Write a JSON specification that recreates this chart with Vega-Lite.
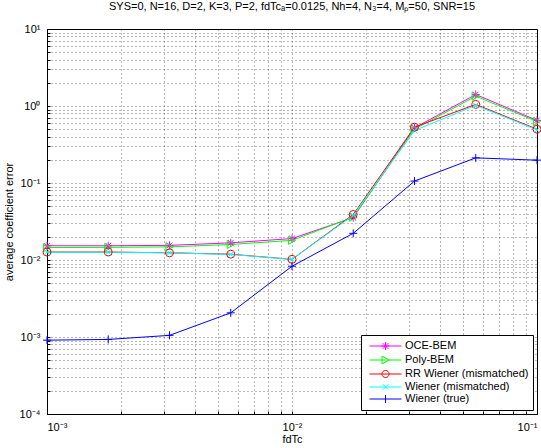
{
  "$schema": "https://vega.github.io/schema/vega-lite/v6.json",
  "width": 490,
  "height": 385,
  "autosize": {"type": "none"},
  "padding": {"left": 47, "top": 29, "right": 4, "bottom": 34},
  "config": {
    "font": "Liberation Sans",
    "view": {"stroke": "black", "strokeWidth": 1},
    "axis": {
      "grid": true,
      "gridDash": [1, 3],
      "gridColor": "#000000",
      "gridOpacity": 0.55,
      "gridWidth": 1,
      "ticks": true,
      "tickSize": -3,
      "tickColor": "#000000",
      "domain": false,
      "labelFont": "Liberation Sans",
      "labelFontSize": 11,
      "labelColor": "#000000",
      "labelOverlap": false,
      "titleFont": "Liberation Sans",
      "titleFontSize": 11,
      "titleFontWeight": "normal",
      "titleColor": "#000000"
    },
    "legend": {
      "orient": "bottom-right",
      "offset": 4,
      "strokeColor": "#000000",
      "fillColor": "#ffffff",
      "padding": 4,
      "labelFont": "Liberation Sans",
      "labelFontSize": 11,
      "labelColor": "#000000",
      "symbolSize": 169,
      "symbolStrokeWidth": 1,
      "symbolFillColor": "transparent",
      "rowPadding": 0,
      "labelOffset": 26,
      "labelLimit": 300
    }
  },
  "title": {
    "text": "SYS=0, N=16, D=2, K=3, P=2, fdTcₐ=0.0125, Nh=4, N₃=4, Mₚ=50, SNR=15",
    "font": "Liberation Sans",
    "fontSize": 11,
    "fontWeight": "normal",
    "color": "#000000",
    "anchor": "middle",
    "offset": 11
  },
  "data": {
    "values": [
      {"x": 0.001, "series": "OCE-BEM", "y": 0.0153},
      {"x": 0.001778, "series": "OCE-BEM", "y": 0.0153},
      {"x": 0.003162, "series": "OCE-BEM", "y": 0.0155},
      {"x": 0.005623, "series": "OCE-BEM", "y": 0.0167},
      {"x": 0.01, "series": "OCE-BEM", "y": 0.0190},
      {"x": 0.01778, "series": "OCE-BEM", "y": 0.0355},
      {"x": 0.03162, "series": "OCE-BEM", "y": 0.52},
      {"x": 0.05623, "series": "OCE-BEM", "y": 1.41},
      {"x": 0.1, "series": "OCE-BEM", "y": 0.65},
      {"x": 0.001, "series": "Poly-BEM", "y": 0.0145},
      {"x": 0.001778, "series": "Poly-BEM", "y": 0.0146},
      {"x": 0.003162, "series": "Poly-BEM", "y": 0.0148},
      {"x": 0.005623, "series": "Poly-BEM", "y": 0.0159},
      {"x": 0.01, "series": "Poly-BEM", "y": 0.0180},
      {"x": 0.01778, "series": "Poly-BEM", "y": 0.0360},
      {"x": 0.03162, "series": "Poly-BEM", "y": 0.50},
      {"x": 0.05623, "series": "Poly-BEM", "y": 1.34},
      {"x": 0.1, "series": "Poly-BEM", "y": 0.63},
      {"x": 0.001, "series": "RR Wiener (mismatched)", "y": 0.0127},
      {"x": 0.001778, "series": "RR Wiener (mismatched)", "y": 0.0127},
      {"x": 0.003162, "series": "RR Wiener (mismatched)", "y": 0.0124},
      {"x": 0.005623, "series": "RR Wiener (mismatched)", "y": 0.0119},
      {"x": 0.01, "series": "RR Wiener (mismatched)", "y": 0.0102},
      {"x": 0.01778, "series": "RR Wiener (mismatched)", "y": 0.039},
      {"x": 0.03162, "series": "RR Wiener (mismatched)", "y": 0.53},
      {"x": 0.05623, "series": "RR Wiener (mismatched)", "y": 1.05},
      {"x": 0.1, "series": "RR Wiener (mismatched)", "y": 0.50},
      {"x": 0.001, "series": "Wiener (mismatched)", "y": 0.0126},
      {"x": 0.001778, "series": "Wiener (mismatched)", "y": 0.0126},
      {"x": 0.003162, "series": "Wiener (mismatched)", "y": 0.0124},
      {"x": 0.005623, "series": "Wiener (mismatched)", "y": 0.0118},
      {"x": 0.01, "series": "Wiener (mismatched)", "y": 0.0102},
      {"x": 0.01778, "series": "Wiener (mismatched)", "y": 0.038},
      {"x": 0.03162, "series": "Wiener (mismatched)", "y": 0.48},
      {"x": 0.05623, "series": "Wiener (mismatched)", "y": 1.02},
      {"x": 0.1, "series": "Wiener (mismatched)", "y": 0.49},
      {"x": 0.001, "series": "Wiener (true)", "y": 0.00091},
      {"x": 0.001778, "series": "Wiener (true)", "y": 0.00093},
      {"x": 0.003162, "series": "Wiener (true)", "y": 0.00105},
      {"x": 0.005623, "series": "Wiener (true)", "y": 0.00206},
      {"x": 0.01, "series": "Wiener (true)", "y": 0.0083},
      {"x": 0.01778, "series": "Wiener (true)", "y": 0.0222},
      {"x": 0.03162, "series": "Wiener (true)", "y": 0.106},
      {"x": 0.05623, "series": "Wiener (true)", "y": 0.212},
      {"x": 0.1, "series": "Wiener (true)", "y": 0.198}
    ]
  },
  "layer": [
    {
      "mark": {"type": "line", "strokeWidth": 1, "clip": true},
      "encoding": {
        "x": {
          "field": "x",
          "type": "quantitative",
          "scale": {"type": "log", "domain": [0.001, 0.1]},
          "axis": {
            "title": "fdTc",
            "values": [0.001, 0.002, 0.003, 0.004, 0.005, 0.006, 0.007, 0.008, 0.009, 0.01, 0.02, 0.03, 0.04, 0.05, 0.06, 0.07, 0.08, 0.09, 0.1],
            "labelExpr": "datum.value == 0.001 ? '10⁻³' : datum.value == 0.01 ? '10⁻²' : datum.value == 0.1 ? '10⁻¹' : ''",
            "labelPadding": 10,
            "titlePadding": 1
          }
        },
        "y": {
          "field": "y",
          "type": "quantitative",
          "scale": {"type": "log", "domain": [0.0001, 10]},
          "axis": {
            "title": "average coefficient error",
            "values": [0.0001, 0.0002, 0.0003, 0.0004, 0.0005, 0.0006, 0.0007, 0.0008, 0.0009, 0.001, 0.002, 0.003, 0.004, 0.005, 0.006, 0.007, 0.008, 0.009, 0.01, 0.02, 0.03, 0.04, 0.05, 0.06, 0.07, 0.08, 0.09, 0.1, 0.2, 0.3, 0.4, 0.5, 0.6, 0.7, 0.8, 0.9, 1, 2, 3, 4, 5, 6, 7, 8, 9, 10],
            "labelExpr": "datum.value == 0.0001 ? '10⁻⁴' : datum.value == 0.001 ? '10⁻³' : datum.value == 0.01 ? '10⁻²' : datum.value == 0.1 ? '10⁻¹' : datum.value == 1 ? '10⁰' : datum.value == 10 ? '10¹' : ''",
            "labelPadding": 10,
            "titlePadding": 5
          }
        },
        "color": {
          "field": "series",
          "type": "nominal",
          "scale": {
            "domain": ["OCE-BEM", "Poly-BEM", "RR Wiener (mismatched)", "Wiener (mismatched)", "Wiener (true)"],
            "range": ["#ff00ff", "#00ff00", "#ff0000", "#00ffff", "#0000ff"]
          },
          "legend": null
        }
      }
    },
    {
      "mark": {"type": "point", "filled": false, "size": 64, "strokeWidth": 1, "opacity": 1},
      "encoding": {
        "x": {"field": "x", "type": "quantitative"},
        "y": {"field": "y", "type": "quantitative"},
        "color": {
          "field": "series",
          "type": "nominal",
          "scale": {
            "domain": ["OCE-BEM", "Poly-BEM", "RR Wiener (mismatched)", "Wiener (mismatched)", "Wiener (true)"],
            "range": ["#ff00ff", "#00ff00", "#ff0000", "#00ffff", "#0000ff"]
          },
          "legend": null
        },
        "shape": {
          "field": "series",
          "type": "nominal",
          "scale": {
            "domain": ["OCE-BEM", "Poly-BEM", "RR Wiener (mismatched)", "Wiener (mismatched)", "Wiener (true)"],
            "range": [
              "M0,-1L0,1M-1,0L1,0M-0.7,-0.7L0.7,0.7M-0.7,0.7L0.7,-0.7",
              "M-0.9,-1L0.9,0L-0.9,1Z",
              "circle",
              "M-0.75,-0.75L0.75,0.75M-0.75,0.75L0.75,-0.75",
              "M0,-1L0,1M-1,0L1,0"
            ]
          },
          "legend": null
        }
      }
    },
    {
      "transform": [{"filter": "datum.y < 0"}],
      "mark": {"type": "point", "filled": false, "strokeWidth": 1, "opacity": 1},
      "encoding": {
        "x": {"field": "x", "type": "quantitative"},
        "y": {"field": "y", "type": "quantitative"},
        "color": {
          "field": "series",
          "type": "nominal",
          "scale": {
            "domain": ["OCE-BEM", "Poly-BEM", "RR Wiener (mismatched)", "Wiener (mismatched)", "Wiener (true)"],
            "range": ["#ff00ff", "#00ff00", "#ff0000", "#00ffff", "#0000ff"]
          },
          "legend": {"title": null}
        },
        "shape": {
          "field": "series",
          "type": "nominal",
          "scale": {
            "domain": ["OCE-BEM", "Poly-BEM", "RR Wiener (mismatched)", "Wiener (mismatched)", "Wiener (true)"],
            "range": [
              "M-0.38,0L4.54,0M2.08,-0.62L2.08,0.62M1.46,0L2.7,0M1.64,-0.44L2.52,0.44M1.64,0.44L2.52,-0.44",
              "M-0.38,0L4.54,0M1.54,-0.62L2.62,0L1.54,0.62Z",
              "M-0.38,0L4.54,0M2.63,0A0.55,0.55 0 1,1 1.53,0A0.55,0.55 0 1,1 2.63,0",
              "M-0.38,0L4.54,0M1.64,-0.44L2.52,0.44M1.64,0.44L2.52,-0.44",
              "M-0.38,0L4.54,0M2.08,-0.62L2.08,0.62"
            ]
          },
          "legend": {"title": null}
        }
      }
    }
  ],
  "resolve": {"scale": {"shape": "independent", "color": "independent"}}
}
